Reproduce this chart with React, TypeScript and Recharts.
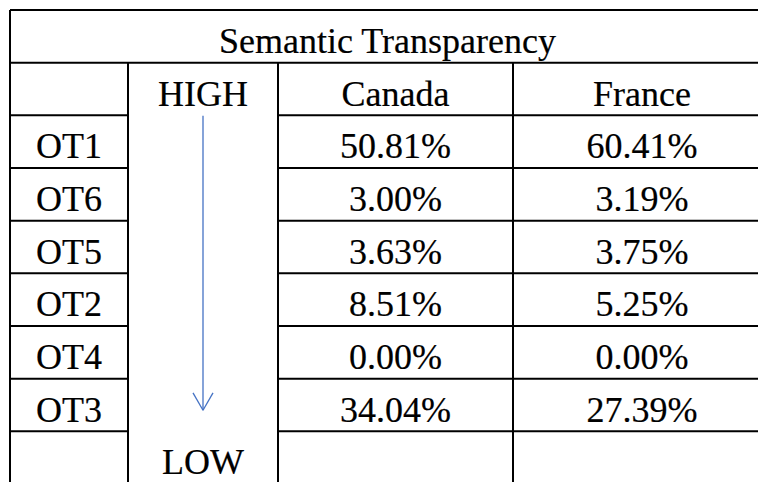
import { ScatterChart, Scatter, XAxis, YAxis, ReferenceLine } from "recharts";

// table content
const title = "Semantic Transparency";
const countries = ["Canada", "France"];
const rowLabels = ["OT1", "OT6", "OT5", "OT2", "OT4", "OT3"];
const canada = [50.81, 3.0, 3.63, 8.51, 0.0, 34.04];
const france = [60.41, 3.19, 3.75, 5.25, 0.0, 27.39];
const scaleTop = "HIGH";
const scaleBottom = "LOW";

// layout (table units: x in px-like width units, y in rows)
const colEdges = [0, 118, 268, 503, 761];
const rowCount = 9;
const colCenter = (i: number) => (colEdges[i] + colEdges[i + 1]) / 2;
const tableRight = colEdges[colEdges.length - 1];

const fmt = (v: number) => `${v.toFixed(2)}%`;

const cells = [
  { x: tableRight / 2 - 3, y: 0.5, text: title },
  { x: colCenter(1), y: 1.5, text: scaleTop },
  ...countries.map((c, i) => ({ x: colCenter(2 + i), y: 1.5, text: c })),
  ...rowLabels.flatMap((label, i) => [
    { x: colCenter(0), y: 2.5 + i, text: label },
    { x: colCenter(2), y: 2.5 + i, text: fmt(canada[i]) },
    { x: colCenter(3), y: 2.5 + i, text: fmt(france[i]) },
  ]),
  { x: colCenter(1), y: 8.5, text: scaleBottom },
];

const CellText = (props: any) => {
  const { cx, cy, payload } = props;
  return (
    <text
      x={cx}
      y={cy + 16.5}
      textAnchor="middle"
      fontFamily="'Liberation Serif', 'Times New Roman', serif"
      fontSize={36}
      fill="#000"
      stroke="#000"
      strokeWidth={0.2}
    >
      {payload.text}
    </text>
  );
};

const line = { stroke: "#000", strokeWidth: 2, ifOverflow: "visible" as const };
const arrow = { stroke: "#4472C4", strokeWidth: 1.3, ifOverflow: "visible" as const };

export default function App() {
  const hLines: { y: number; x0: number; x1: number }[] = [
    { y: 0, x0: 0, x1: tableRight },
    { y: 1, x0: 0, x1: tableRight },
  ];
  for (let r = 2; r <= rowCount; r++) {
    hLines.push({ y: r, x0: colEdges[0], x1: colEdges[1] });
    hLines.push({ y: r, x0: colEdges[2], x1: tableRight });
  }
  // the right border falls outside the picture
  const vLines = [
    { x: colEdges[0], y0: 0 },
    { x: colEdges[1], y0: 1 },
    { x: colEdges[2], y0: 1 },
    { x: colEdges[3], y0: 1 },
  ];
  const ax = colCenter(1);

  return (
    <div
      style={{
        position: "fixed",
        left: 0,
        top: 0,
        width: 758,
        height: 482,
        overflow: "hidden",
        background: "#fff",
      }}
    >
      <ScatterChart
        width={790}
        height={500}
        margin={{ top: 10, left: 10, right: 19, bottom: 16 }}
      >
        <XAxis type="number" dataKey="x" domain={[0, tableRight]} allowDataOverflow hide />
        <YAxis type="number" dataKey="y" domain={[0, rowCount]} allowDataOverflow reversed hide />
        {hLines.map((l, i) => (
          <ReferenceLine
            key={`h${i}`}
            segment={[
              { x: l.x0, y: l.y },
              { x: l.x1, y: l.y },
            ]}
            {...line}
          />
        ))}
        {vLines.map((l, i) => (
          <ReferenceLine
            key={`v${i}`}
            segment={[
              { x: l.x, y: l.y0 },
              { x: l.x, y: rowCount },
            ]}
            {...line}
          />
        ))}
        <ReferenceLine segment={[{ x: ax, y: 2.01 }, { x: ax, y: 7.6 }]} {...arrow} />
        <ReferenceLine segment={[{ x: ax - 10, y: 7.27 }, { x: ax, y: 7.6 }]} {...arrow} />
        <ReferenceLine segment={[{ x: ax + 10, y: 7.27 }, { x: ax, y: 7.6 }]} {...arrow} />
        <Scatter data={cells} shape={CellText} isAnimationActive={false} />
      </ScatterChart>
    </div>
  );
}
